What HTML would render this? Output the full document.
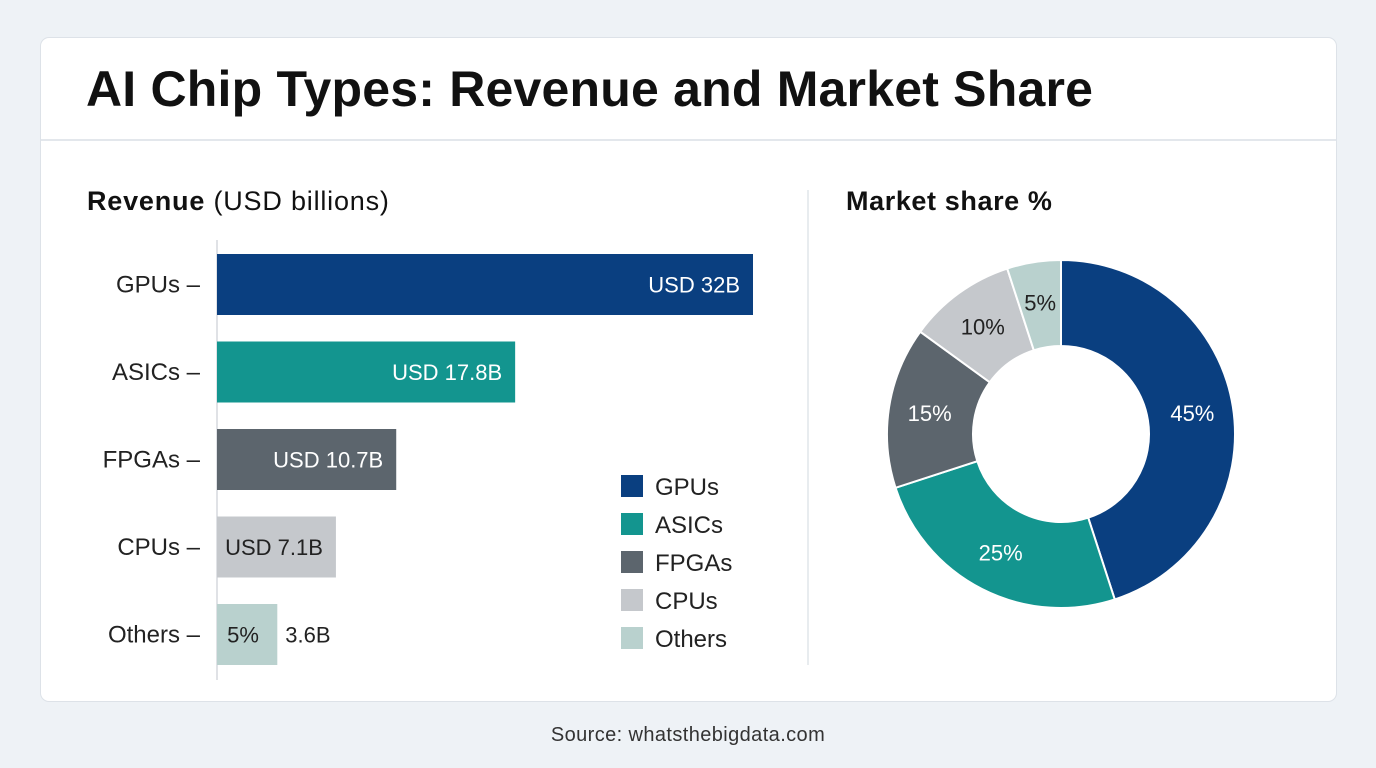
<!DOCTYPE html>
<html><head><meta charset="utf-8"><style>
body{margin:0;width:1376px;height:768px;background:#eef2f6;font-family:"Liberation Sans",sans-serif;overflow:hidden;position:relative}
.card{position:absolute;left:40px;top:37px;width:1295px;height:663px;background:#fff;border:1px solid #dde2e8;border-radius:9px}
.hdr{position:absolute;left:0;top:0;right:0;height:101px;border-bottom:2px solid #e3e7ec}
.title{position:absolute;left:45px;top:22px;font-size:50px;font-weight:bold;color:#111;letter-spacing:0.2px}
.src{position:absolute;left:0;width:1376px;top:724px;text-align:center;font-size:20px;color:#333;letter-spacing:0.4px}
</style></head><body>
<div class="card">
 <div class="hdr"><div class="title">AI Chip Types: Revenue and Market Share</div></div>
</div>
<svg id="svg" width="1376" height="768" style="position:absolute;left:0;top:0">
 <text x="87" y="210" font-size="27" fill="#111" letter-spacing="0.8"><tspan font-weight="bold">Revenue</tspan> (USD billions)</text>
 <text x="846" y="210" font-size="27" font-weight="bold" fill="#111" letter-spacing="0.6">Market share %</text>
 <line x1="217" y1="240" x2="217" y2="680" stroke="#d5d9de" stroke-width="1.5"/>
 <line x1="808" y1="190" x2="808" y2="665" stroke="#e1e5ea" stroke-width="1.5"/>
 <g id="bars"></g><g id="legend"></g><g id="donut"></g>
</svg>
<div class="src">Source: whatsthebigdata.com</div>
<script>
const categories=["GPUs","ASICs","FPGAs","CPUs","Others"];
const revenue=[32,17.8,10.7,7.1,3.6];
const barLabels=["USD 32B","USD 17.8B","USD 10.7B","USD 7.1B","5%"];
const share=[45,25,15,10,5];
const colors=["#0a3f80","#13958f","#5c656d","#c5c8cc","#b9d1ce"];
const NS="http://www.w3.org/2000/svg";
function mk(t,a,p){const e=document.createElementNS(NS,t);for(const k in a)e.setAttribute(k,a[k]);p.appendChild(e);return e;}
const x0=217,xs=v=>v*16.75,y=i=>254+i*87.5,bh=61;
const bars=document.getElementById('bars');
categories.forEach((c,i)=>{
 const w=xs(revenue[i]);
 const r=mk('rect',{x:x0,y:y(i),width:w,height:bh,fill:colors[i]},bars);
 
 
 const t=mk('text',{x:200,y:y(i)+bh/2+8,'font-size':24,'text-anchor':'end',fill:'#222'},bars);t.textContent=c+' –';
 
 
 const lt=mk('text',{x:x0+w-13,y:y(i)+bh/2+8,'font-size':22,'text-anchor':'end',fill:i<3?'#fff':'#222'},bars);lt.textContent=barLabels[i];
 
 
 if(i==4){lt.setAttribute('text-anchor','middle');lt.setAttribute('x',x0+26);
  const o=mk('text',{x:x0+w+8,y:y(i)+bh/2+8,'font-size':22,fill:'#222'},bars);o.textContent=revenue[i]+'B';
  
  }
});
const lg=document.getElementById('legend');
categories.forEach((c,i)=>{
 const yy=475+i*38;
 const s=mk('rect',{x:621,y:yy,width:22,height:22,fill:colors[i]},lg);
 
 
 const t=mk('text',{x:655,y:yy+20,'font-size':24,fill:'#222'},lg);t.textContent=c;
 
 
});
const dn=document.getElementById('donut');
const cx=1061,cy=434,R=174,r0=88;
const tot=share.reduce((a,b)=>a+b,0);
let a=0;
share.forEach((v,i)=>{
 const a1=a+v/tot*2*Math.PI;
 const P=(rad,an)=>[cx+rad*Math.sin(an),cy-rad*Math.cos(an)];
 const [x1,y1]=P(R,a),[x2,y2]=P(R,a1),[x3,y3]=P(r0,a1),[x4,y4]=P(r0,a);
 const lf=(a1-a)>Math.PI?1:0;
 const p=mk('path',{d:`M${x1},${y1}A${R},${R} 0 ${lf} 1 ${x2},${y2}L${x3},${y3}A${r0},${r0} 0 ${lf} 0 ${x4},${y4}Z`,fill:colors[i],stroke:'#fff','stroke-width':2},dn);
 
 
 const m=(a+a1)/2,[lx,ly]=P(133,m);
 const t=mk('text',{x:lx,y:ly+8,'font-size':22,'text-anchor':'middle',fill:i<3?'#fff':'#222'},dn);t.textContent=v+'%';
 
 
 a=a1;
});
</script>
</body></html>
